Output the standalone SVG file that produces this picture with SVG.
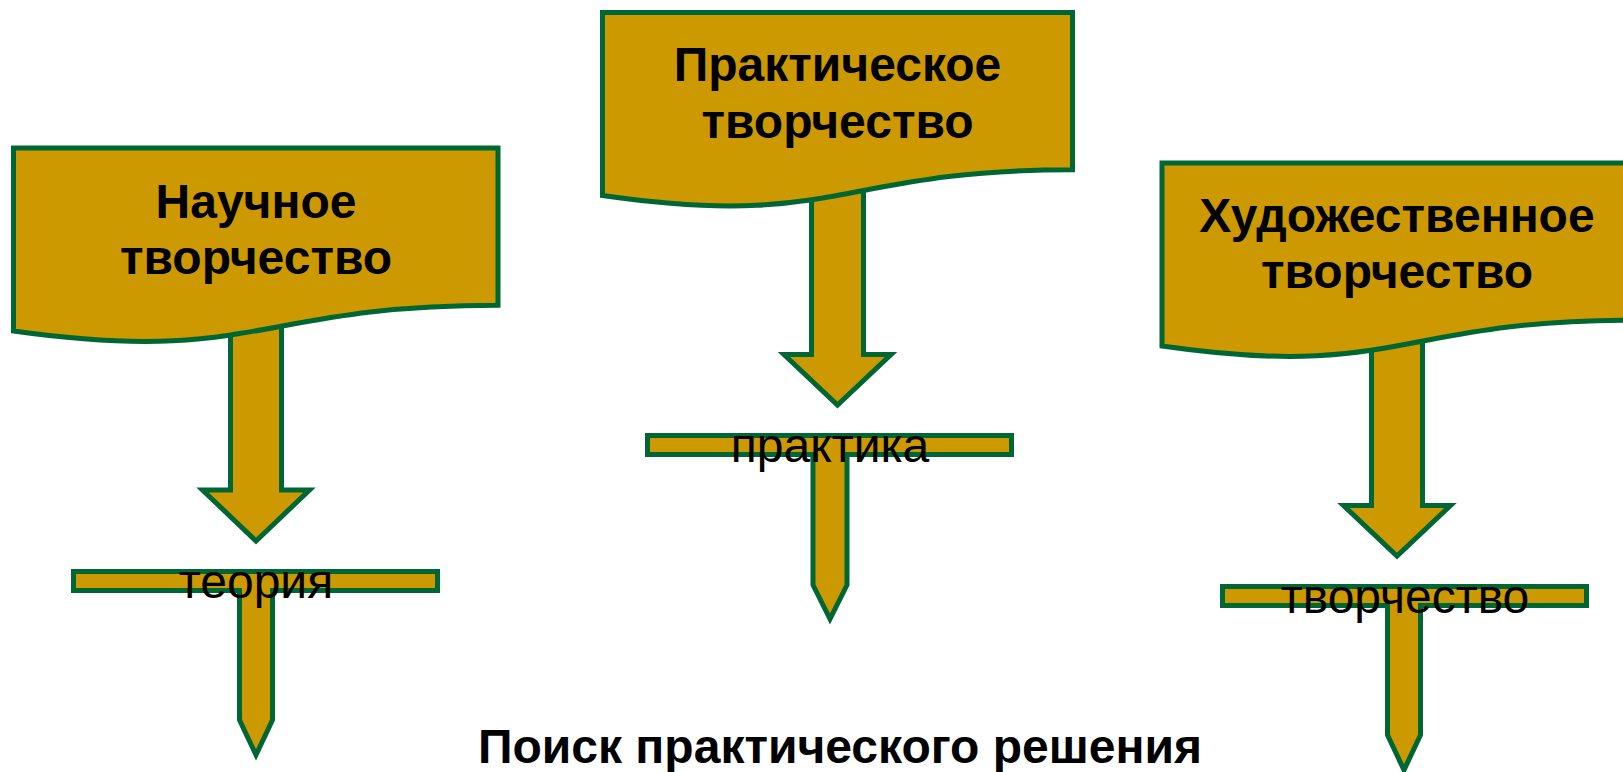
<svg xmlns="http://www.w3.org/2000/svg" width="1623" height="772" viewBox="0 0 1623 772">
<style>
.shape{fill:#CC9900;stroke:#006633;stroke-width:5;stroke-linejoin:miter;stroke-miterlimit:10}
.title{font-family:"Liberation Sans",Arial,sans-serif;font-weight:bold;font-size:48px;fill:#000;text-anchor:middle}
.label{font-family:"Liberation Sans",Arial,sans-serif;font-size:48px;fill:#000;text-anchor:middle}
.bottom{font-family:"Liberation Sans",Arial,sans-serif;font-weight:bold;font-size:48px;fill:#000;text-anchor:middle}
</style>
<rect width="1623" height="772" fill="#fff"/>
<g id="connectors">
<polygon class="shape" points="230.5,320 281.5,320 281.5,490 309.5,490 256,541 202.5,490 230.5,490"/>
<polygon class="shape" points="811.5,185 863.5,185 863.5,354.5 891,354.5 837.5,405 784,354.5 811.5,354.5"/>
<polygon class="shape" points="1371.5,335 1422.5,335 1422.5,505.5 1450.5,505.5 1397,556 1343.5,505.5 1371.5,505.5"/>
</g>
<g id="node-scientific">
<path class="shape" d="M13.5,148 H498 V305.2 C255.75,305.2 255.75,365 13.5,331 Z"/>
<text class="title" x="256" y="217.5">Научное</text>
<text class="title" x="256" y="274">творчество</text>
</g>
<g id="node-practical">
<path class="shape" d="M602.5,12.5 H1072.5 V169.7 C837.5,169.7 837.5,229.5 602.5,195.5 Z"/>
<text class="title" x="837.5" y="81">Практическое</text>
<text class="title" x="837.5" y="137.5">творчество</text>
</g>
<g id="node-artistic">
<path class="shape" d="M1162,163 H1632 V320.2 C1397,320.2 1397,380 1162,346 Z"/>
<text class="title" x="1397" y="231.5">Художественное</text>
<text class="title" x="1397" y="287.5">творчество</text>
</g>
<g id="node-theory">
<polygon class="shape" points="73.5,571.5 437.5,571.5 437.5,590.5 272.5,590.5 272.5,720 256,755 239.5,720 239.5,590.5 73.5,590.5"/>
<text class="label" x="256" y="598">теория</text>
</g>
<g id="node-practice">
<polygon class="shape" points="647.5,435.5 1011.5,435.5 1011.5,454.5 847,454.5 847,585 830,619 813,585 813,454.5 647.5,454.5"/>
<text class="label" x="830" y="461.5">практика</text>
</g>
<g id="node-creativity">
<polygon class="shape" points="1222.5,586.5 1586.5,586.5 1586.5,605.5 1420.5,605.5 1420.5,735 1404,770 1387.5,735 1387.5,605.5 1222.5,605.5"/>
<text class="label" x="1405" y="612.5">творчество</text>
</g>
<g id="node-bottom">
<text class="bottom" x="840" y="763">Поиск практического решения</text>
</g>
</svg>
